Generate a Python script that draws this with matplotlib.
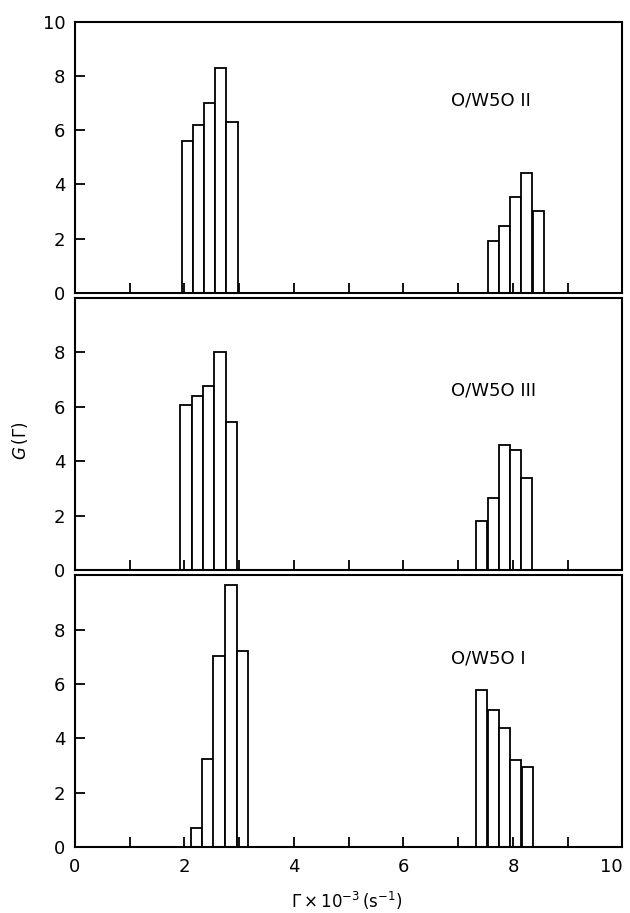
import numpy as np
import matplotlib.pyplot as plt

# ---------------------------------------------------------------------------
# Data (bin centres and G(Gamma) heights)
# ---------------------------------------------------------------------------

BIN_WIDTH = 0.205

labels = ["O/W5O II", "O/W5O III", "O/W5O I"]

centers_ii = [2.05, 2.25, 2.46, 2.66, 2.87, 7.64, 7.84, 8.05, 8.25, 8.46]
heights_ii = [5.6, 6.2, 7.0, 8.3, 6.3, 1.9, 2.45, 3.55, 4.4, 3.0]

centers_iii = [2.03, 2.24, 2.44, 2.65, 2.86, 7.43, 7.64, 7.85, 8.05, 8.25]
heights_iii = [6.05, 6.4, 6.75, 8.0, 5.45, 1.8, 2.65, 4.6, 4.4, 3.4]

centers_i = [2.22, 2.43, 2.63, 2.85, 3.06, 7.43, 7.64, 7.85, 8.05, 8.26]
heights_i = [0.7, 3.25, 7.05, 9.65, 7.2, 5.8, 5.05, 4.4, 3.2, 2.95]

label_pos = [(6.87, 7.1), (6.87, 6.6), (6.87, 6.95)]

# ---------------------------------------------------------------------------
# Figure
# ---------------------------------------------------------------------------

plt.rcParams["font.family"] = ["DejaVu Sans"]

fig = plt.figure(figsize=(6.3, 9.13), dpi=100)

left, width = 0.119, 0.869
panels = [
    (0.6794, 0.2968),
    (0.3757, 0.2979),
    (0.0720, 0.2979),
]

data = [
    (centers_ii, heights_ii),
    (centers_iii, heights_iii),
    (centers_i, heights_i),
]

for i, ((bottom, height), (cx, hy), text, pos) in enumerate(
        zip(panels, data, labels, label_pos)):
    ax = fig.add_axes([left, bottom, width, height])
    ax.bar(cx, hy, width=BIN_WIDTH, facecolor="white", edgecolor="black",
           linewidth=1.3)
    ax.set_xlim(0, 10)
    ax.set_ylim(0, 10)
    for s in ax.spines.values():
        s.set_linewidth(1.5)

    ax.set_xticks(np.arange(0, 11, 2))
    ax.set_xticks(np.arange(1, 10, 2), minor=True)
    if i == 0:
        ax.set_yticks(np.arange(0, 11, 2))
    else:
        ax.set_yticks(np.arange(0, 9, 2))
    ax.tick_params(axis="both", which="both", direction="in", length=7,
                   width=1.3, labelsize=13, top=False, right=False)
    ax.tick_params(axis="y", pad=7)
    if i < 2:
        ax.tick_params(axis="x", labelbottom=False)
    else:
        ax.tick_params(axis="x", pad=8)
        # keep the last label ("10") inside the canvas
        ax.get_xticklabels()[-1].set_horizontalalignment("right")

    ax.text(pos[0], pos[1], text, fontsize=13, ha="left", va="center")

fig.text(0.032, 0.517, r"$G\,(\Gamma)$", rotation=90, fontsize=12,
         ha="center", va="center")
fig.text(0.55, 0.013, r"$\Gamma \times 10^{-3}\,(\mathrm{s}^{-1})$",
         fontsize=12, ha="center", va="center")

fig.savefig("out.png", dpi=100)
